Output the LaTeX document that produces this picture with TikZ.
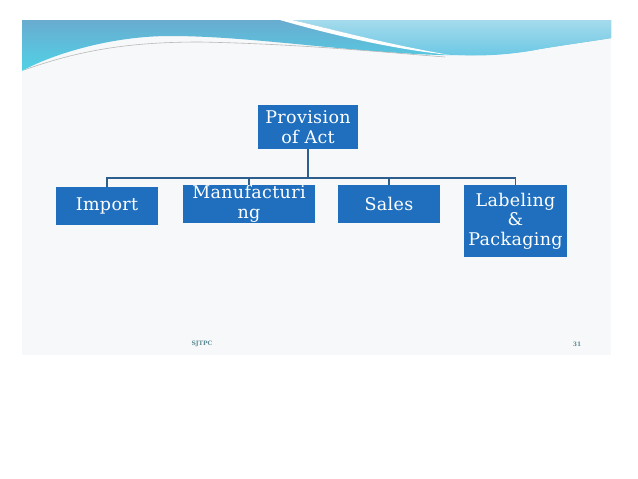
\documentclass[tikz,border=0pt]{standalone}
\usepackage{fontspec}
\setmainfont{DejaVu Serif}
\newfontfamily\boxfont[LetterSpace=2]{DejaVu Serif}
\definecolor{boxblue}{RGB}{31,111,190}
\definecolor{linkblue}{RGB}{46,95,140}
\definecolor{slidebg}{RGB}{246,248,249}
\definecolor{footgrey}{RGB}{95,140,150}
\tikzset{
  box/.style={fill=boxblue, text=white, align=center, inner sep=0pt,
    font=\boxfont\fontsize{17.5}{19.5}\selectfont},
  link/.style={draw=linkblue, line width=1.8pt},
  foot/.style={text=footgrey, font=\fontsize{6}{7}\selectfont\bfseries},
}
\begin{document}
\begin{tikzpicture}[x=1pt,y=-1pt]
\useasboundingbox (0,0) rectangle (638,479);
\fill[white] (0,0) rectangle (638,479);
\fill[slidebg] (22,20) rectangle (611,355);
% header wave
\shade[top color={rgb,255:red,105;green,172;blue,208}, bottom color={rgb,255:red,80;green,210;blue,230}]
  (22,20) -- (611,20) -- (611,38) .. controls (600,40) and (570,44) .. (540,49)
  .. controls (500,57) and (440,56) .. (400,53)
  .. controls (320,48) and (240,36) .. (170,36)
  .. controls (110,36) and (50,55) .. (22,71) -- cycle;
\shade[top color={rgb,255:red,165;green,218;blue,236}, bottom color={rgb,255:red,105;green,200;blue,228}]
  (292,20) -- (611,20) -- (611,38) .. controls (600,40) and (570,44) .. (540,49)
  .. controls (500,57) and (470,56) .. (440,54)
  .. controls (390,45) and (335,30) .. (292,20) -- cycle;
\fill[white] (280,20) -- (292,20) .. controls (335,30) and (390,45) .. (450,55)
  .. controls (390,49) and (325,33) .. (280,20) -- cycle;
\draw[gray!55, line width=0.6pt] (24,70) .. controls (80,50) and (130,42) .. (200,42) .. controls (300,44) and (380,52) .. (445,57);
% boxes
\node[box, minimum width=100pt, minimum height=44pt] (act) at (308,127) {Provision\\of Act};
\node[box, minimum width=102pt, minimum height=38pt] (imp) at (107,206) {Import};
\node[box, minimum width=132pt, minimum height=38pt] (man) at (249,204) {Manufacturi\\ng};
\node[box, minimum width=102pt, minimum height=38pt] (sal) at (389,204) {Sales};
\node[box, minimum width=103pt, minimum height=72pt] (lab) at (515.5,221) {Labeling\\\&\\Packaging};
% connectors
\coordinate (bus) at (308,178);
\draw[link] (act.south) -- (bus);
\draw[link] (imp.north) |- (bus) -| (lab.north);
\draw[link] (man.north) -- (man.north |- bus);
\draw[link] (sal.north) -- (sal.north |- bus);
% footer
\node[foot] (ft) at (202,344) {SJTPC};
\node[foot] (pg) at (577,344) {31};
\end{tikzpicture}
\end{document}
